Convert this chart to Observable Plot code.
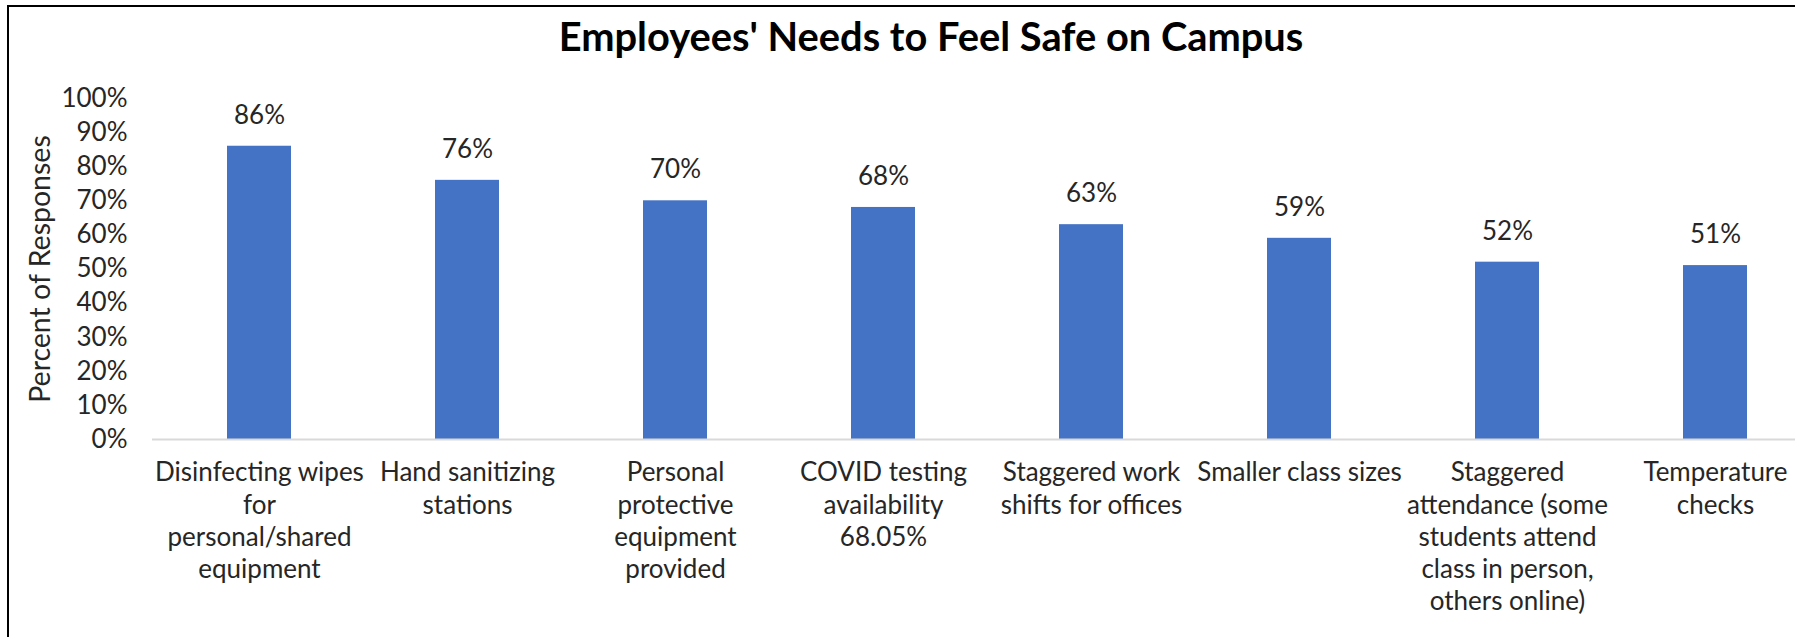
<!DOCTYPE html>
<html>
<head>
<meta charset="utf-8">
<script src="https://cdn.jsdelivr.net/npm/d3@7"></script>
<script src="https://cdn.jsdelivr.net/npm/@observablehq/plot@0.6"></script>
<style>
  html, body { margin: 0; padding: 0; background: #fff; }
  #wrap { position: relative; width: 1795px; height: 637px; overflow: hidden; background: #fff; }
  #chart { position: absolute; left: 0; top: 0; }
  #border { position: absolute; left: 7px; top: 5px; width: 2000px; height: 800px;
            border-left: 2px solid #000; border-top: 2px solid #000; pointer-events: none; }
  #title { position: absolute; left: 0; top: 16px; width: 1862px; text-align: center;
           font-family: Lato, "Open Sans", sans-serif; font-weight: bold; font-size: 39.8px;
           line-height: 1; color: #000; }
</style>
</head>
<body>
<div id="wrap">
  <div id="chart"></div>
  <div id="title"></div>
  <div id="border"></div>
</div>
<script>
const chartTitle = "Employees' Needs to Feel Safe on Campus";
const yAxisTitle = "Percent of Responses";
const categories = [
  "Disinfecting wipes for personal/shared equipment",
  "Hand sanitizing stations",
  "Personal protective equipment provided",
  "COVID testing availability 68.05%",
  "Staggered work shifts for offices",
  "Smaller class sizes",
  "Staggered attendance (some students attend class in person, others online)",
  "Temperature checks"
];
const categoryLabels = [
  "Disinfecting wipes\nfor\npersonal/shared\nequipment",
  "Hand sanitizing\nstations",
  "Personal\nprotective\nequipment\nprovided",
  "COVID testing\navailability\n68.05%",
  "Staggered work\nshifts for offices",
  "Smaller class sizes",
  "Staggered\nattendance (some\nstudents attend\nclass in person,\nothers online)",
  "Temperature\nchecks"
];
const values = [0.86, 0.76, 0.70, 0.6805, 0.63, 0.59, 0.52, 0.51];
const yTicks = [0, 0.1, 0.2, 0.3, 0.4, 0.5, 0.6, 0.7, 0.8, 0.9, 1.0];

document.getElementById("title").textContent = chartTitle;

const data = categories.map((c, i) => ({category: c, label: categoryLabels[i], value: values[i]}));
const pct = d3.format(".0%");
const textColor = "#262626";

const chart = Plot.plot({
  width: 1795,
  height: 637,
  marginTop: 98,
  marginBottom: 198,
  marginLeft: 152,
  marginRight: 0,
  style: {fontFamily: "Lato, 'Open Sans', sans-serif", color: textColor, background: "transparent"},
  x: {domain: categories, range: [152.6, 1822], paddingInner: 0.693, paddingOuter: 0.3465, align: 0.5, axis: null},
  y: {domain: [0, 1], axis: null},
  marks: [
    Plot.barY(data, {x: "category", y: "value", fill: "#4472c4"}),
    Plot.ruleY([0], {stroke: "#d9d9d9", strokeWidth: 2}),
    Plot.text(data, {x: "category", y: "value", text: d => pct(d.value), dy: -31, fontSize: 26, fill: textColor}),
    Plot.text(data, {x: "category", frameAnchor: "bottom", text: "label", lineAnchor: "top", dy: 19, lineHeight: 1.24, fontSize: 26, fill: textColor}),
    Plot.axisY({ticks: yTicks, tickFormat: pct, tickSize: 0, tickPadding: 25, fontSize: 26, label: null, fill: textColor}),
    Plot.text([yAxisTitle], {frameAnchor: "left", textAnchor: "middle", lineAnchor: "middle", rotate: -90, dx: -112, fontSize: 28.5, fill: textColor})
  ]
});
document.getElementById("chart").appendChild(chart);
</script>
</body>
</html>
